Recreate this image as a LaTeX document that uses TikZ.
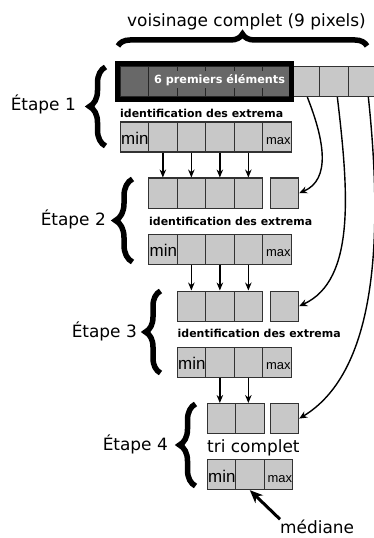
\documentclass[tikz,border=0pt]{standalone}
\usepackage{fontspec}
\setmainfont{DejaVu Sans}
\newfontfamily\cellfont{Liberation Sans}
\usetikzlibrary{arrows.meta,decorations.pathreplacing,calc}
\definecolor{cellfill}{RGB}{200,200,200}
\definecolor{celldark}{RGB}{104,104,104}
\definecolor{cellline}{RGB}{50,50,50}
\begin{document}
\begin{tikzpicture}[x=1bp,y=-1bp,
 cell/.style={draw=cellline, line width=1.2bp, fill=cellfill, minimum width=28.5bp, minimum height=30bp, inner sep=0, anchor=north west},
 darkcell/.style={cell, fill=celldark, draw=black!85},
 lbl/.style={inner sep=0, font=\fontsize{17}{20}\selectfont},
 ident/.style={inner sep=0, anchor=base west, font=\fontsize{11}{13}\selectfont\bfseries},
 mintxt/.style={inner sep=0, anchor=base west, font=\cellfont\fontsize{17}{20}\selectfont},
 maxtxt/.style={inner sep=0, anchor=base east, font=\cellfont\fontsize{13}{15}\selectfont},
 bigbrace/.style={decorate, decoration={brace, amplitude=#1}, line width=5.5bp},
 downarrow/.style={-{Stealth[length=8bp,width=6.5bp]}, line width=1.3bp},
 bendarrow/.style={-{Stealth[length=8bp,width=7bp]}, line width=1.4bp},
]
\useasboundingbox (0,0) rectangle (373,538);

% top row (9 pixels)
\foreach \i in {0,...,5} \node[darkcell] (A\i) at ({119.5+28.5*\i},66) {};
\foreach \i in {6,7,8} \node[cell] (A\i) at ({119.5+28.5*\i},66) {};
\node[fill=celldark, minimum width=138bp, minimum height=17bp, text height=8.2bp, text depth=0bp, inner sep=0, text=white, font=\fontsize{11.3}{13}\selectfont\bfseries] (six) at (219.5,79.5) {6 premiers éléments};
\draw[line width=5.5bp] (117.5,63.5) rectangle (291.5,99.5);

% top brace and title
\draw[bigbrace=12bp] (118,46) -- (367,46);
\node[lbl, anchor=base] (vois) at (246.5,27) {voisinage complet (9 pixels)};

% step 1
\node[ident] (id1) at (120,118) {identification des extrema};
\foreach \i in {0,...,5} \node[cell] (B\i) at ({119.5+28.5*\i},121.5) {};
\node[mintxt] (Bmin) at ($(B0.south west)+(1.5,-8)$) {min};
\node[maxtxt] (Bmax) at ($(B5.south east)+(-1,-8)$) {max};
\draw[bigbrace=16bp] (105.5,146) -- (105.5,67);
\node[lbl, anchor=base east] (e1) at (76,111) {Étape 1};

% step 2
\foreach \i in {1,...,4} \node[cell] (C\i) at ({119.5+28.5*\i},177.5) {};
\node[cell] (Cx) at (269.5,177.5) {};
\node[ident] (id2) at (149,225) {identification des extrema};
\foreach \i in {1,...,5} \node[cell] (D\i) at ({119.5+28.5*\i},233.5) {};
\node[mintxt] (Dmin) at ($(D1.south west)+(1.5,-8)$) {min};
\node[maxtxt] (Dmax) at ($(D5.south east)+(-1,-8)$) {max};
\draw[bigbrace=17bp] (132.5,262) -- (132.5,179);
\node[lbl, anchor=base east] (e2) at (106,225) {Étape 2};

% step 3
\foreach \i in {2,3,4} \node[cell] (E\i) at ({119.5+28.5*\i},290.5) {};
\node[cell] (Ex) at (269.5,290.5) {};
\node[ident] (id3) at (177.5,337.5) {identification des extrema};
\foreach \i in {2,...,5} \node[cell] (F\i) at ({119.5+28.5*\i},346.5) {};
\node[mintxt] (Fmin) at ($(F2.south west)+(1.5,-8)$) {min};
\node[maxtxt] (Fmax) at ($(F5.south east)+(-1,-8)$) {max};
\draw[bigbrace=15bp] (160.5,373) -- (160.5,291);
\node[lbl, anchor=base east] (e3) at (137,337) {Étape 3};

% step 4
\foreach \i in {3,4} \node[cell] (G\i) at ({121+28.5*\i},403) {};
\node[cell] (Gx) at (269.5,403) {};
\node[lbl, anchor=base west] (tri) at (207,452) {tri complet};
\foreach \i in {3,4,5} \node[cell] (H\i) at ({121+28.5*\i},459) {};
\node[mintxt] (Hmin) at ($(H3.south west)+(1.5,-8)$) {min};
\node[maxtxt] (Hmax) at ($(H5.south east)+(-1,-8)$) {max};
\draw[bigbrace=16bp] (195.5,486) -- (195.5,404);
\node[lbl, anchor=base east] (e4) at (168,450) {Étape 4};

% vertical arrows
\foreach \i in {1,...,4} \draw[downarrow] (B\i.south) -- (B\i.south |- C\i.north);
\foreach \i in {2,3,4} \draw[downarrow] (D\i.south) -- (D\i.south |- E\i.north);
\foreach \i in {3,4} \draw[downarrow] (F\i.south) -- (F\i.south |- G\i.north);

% curved arrows from the remaining pixels
\draw[bendarrow] ([xshift=2bp]A6.south) .. controls +(17,43) and +(32,-13.5) .. (Cx.east);
\draw[bendarrow] ([xshift=3.5bp]A7.south) .. controls +(11,93) and +(57,-26) .. (Ex.east);
\draw[bendarrow] ([xshift=6bp]A8.south) .. controls +(14,133) and +(80,-48.5) .. (Gx.east);

% median
\node[lbl, anchor=base west] (med) at (280,533) {médiane};
\draw[line width=3bp, -{Stealth[length=13bp,width=11bp]}] (med.north west) -- (H4.south);
\end{tikzpicture}
\end{document}
